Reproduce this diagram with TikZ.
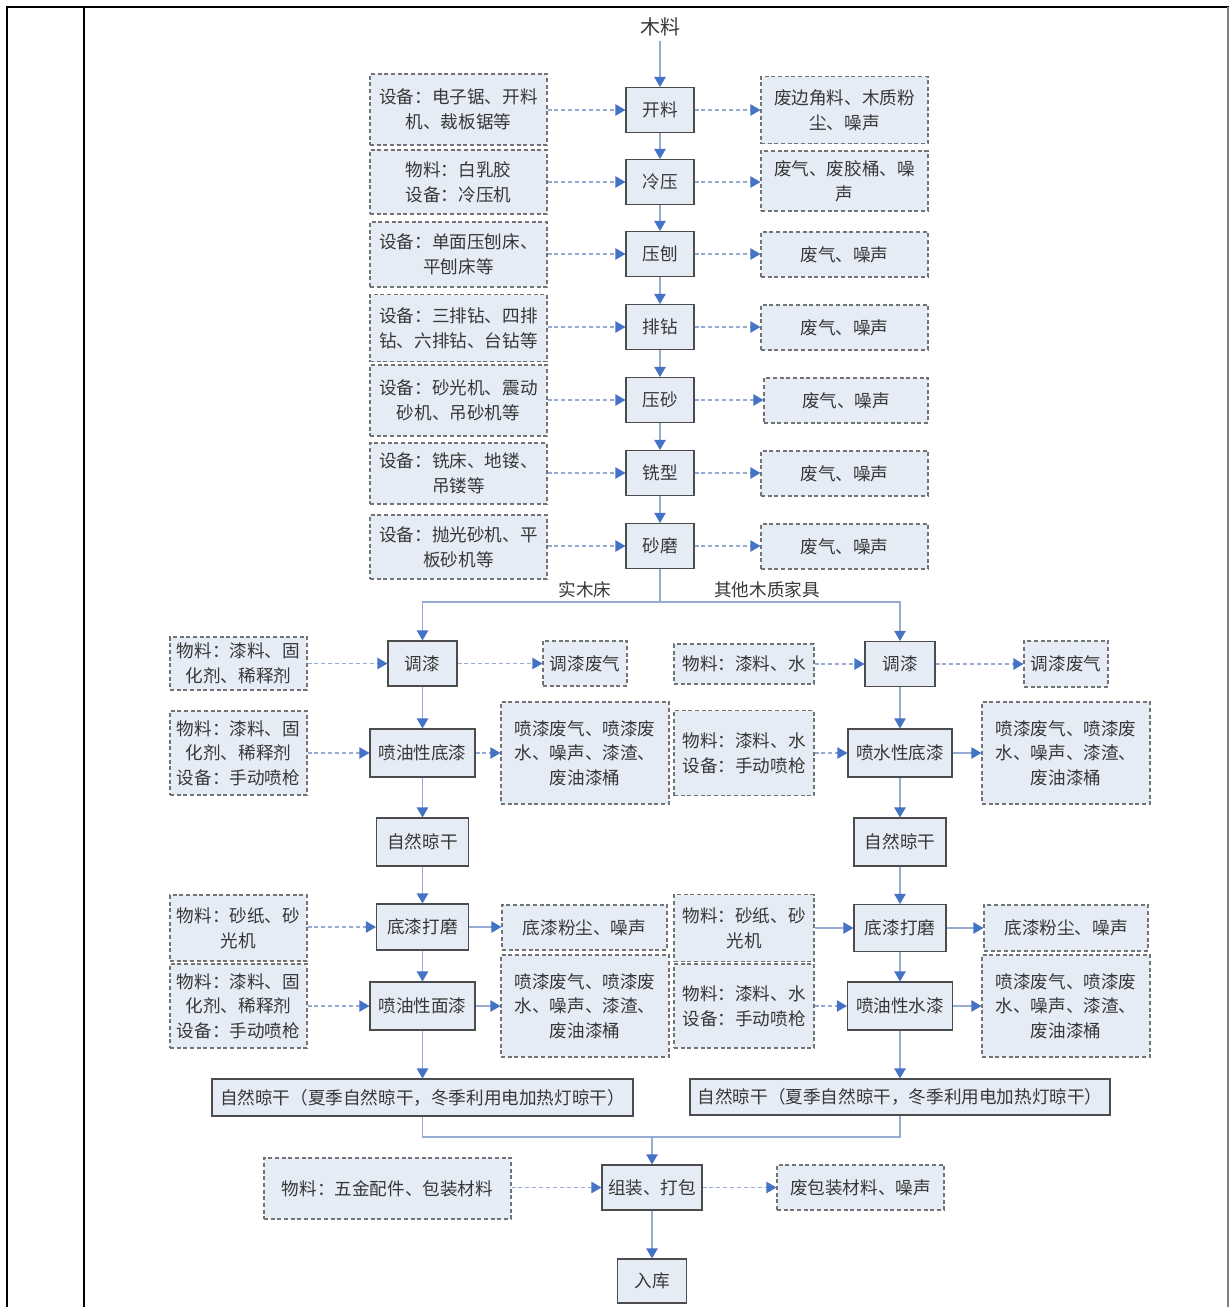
\documentclass[tikz,border=0pt]{standalone}
\usepackage{fontspec}
\setmainfont{Noto Sans CJK SC}
\usetikzlibrary{arrows.meta}
\definecolor{boxfill}{RGB}{230,236,246}
\definecolor{lncol}{RGB}{150,170,212}
\definecolor{ahcol}{RGB}{68,114,196}
\definecolor{txtcol}{RGB}{55,55,55}
\begin{document}
\begin{tikzpicture}[x=0.75pt,y=-0.75pt,
  every node/.style={font=\fontsize{13.2pt}{18.5pt}\selectfont, text=txtcol},
  proc/.style={draw=black!70, fill=boxfill, line width=0.8pt, inner sep=0pt, align=center},
  aux/.style={draw=black!55, dash pattern=on 3pt off 2pt, fill=boxfill, line width=0.8pt, inner sep=0pt, align=center},
  sz/.style 2 args={minimum width=#1*0.75pt, minimum height=#2*0.75pt},
  plain/.style={draw=lncol, line width=0.8pt},
  flow/.style={draw=lncol, line width=0.8pt, -{Triangle[length=7.5pt,width=8.5pt,color=ahcol]}},
  dflow/.style={flow, dash pattern=on 3pt off 2.2pt}
]
\useasboundingbox (0,0) rectangle (1231,1307);
% frame
\draw[line width=1.6pt] (7,1307) -- (7,7) -- (1229,7);
\draw[line width=1.2pt] (84,7) -- (84,1307);
\draw[black!50, line width=1.2pt] (1228,7) -- (1228,1307);

% main column
\node[font=\fontsize{15pt}{18pt}\selectfont] (src) at (660,27) {木料};
\node[proc,sz={68}{45}] (p1) at (660,110) {开料};
\node[proc,sz={68}{45}] (p2) at (660,182) {冷压};
\node[proc,sz={68}{45}] (p3) at (660,254) {压刨};
\node[proc,sz={68}{45}] (p4) at (660,327) {排钻};
\node[proc,sz={68}{45}] (p5) at (660,400) {压砂};
\node[proc,sz={68}{45}] (p6) at (660,473) {铣型};
\node[proc,sz={68}{45}] (p7) at (660,546) {砂磨};

\node[aux,sz={177}{71}] (l1) at (458.5,109.5) {设备：电子锯、开料\\机、裁板锯等};
\node[aux,sz={177}{64}] (l2) at (458.5,182) {物料：白乳胶\\设备：冷压机};
\node[aux,sz={177}{65}] (l3) at (458.5,254.5) {设备：单面压刨床、\\平刨床等};
\node[aux,sz={177}{67}] (l4) at (458.5,328) {设备：三排钻、四排\\钻、六排钻、台钻等};
\node[aux,sz={177}{71}] (l5) at (458.5,400.5) {设备：砂光机、震动\\砂机、吊砂机等};
\node[aux,sz={177}{61}] (l6) at (458.5,473.5) {设备：铣床、地镂、\\吊镂等};
\node[aux,sz={177}{64}] (l7) at (458.5,547) {设备：抛光砂机、平\\板砂机等};

\node[aux,sz={167}{67}] (r1) at (844.5,110) {废边角料、木质粉\\尘、噪声};
\node[aux,sz={167}{60}] (r2) at (844.5,181) {废气、废胶桶、噪\\声};
\node[aux,sz={167}{45}] (r3) at (844.5,254.5) {废气、噪声};
\node[aux,sz={167}{45}] (r4) at (844.5,327.5) {废气、噪声};
\node[aux,sz={164}{45}] (r5) at (846,400.5) {废气、噪声};
\node[aux,sz={167}{45}] (r6) at (844.5,473.5) {废气、噪声};
\node[aux,sz={167}{45}] (r7) at (844.5,546.5) {废气、噪声};

\draw[flow] (src) -- (p1);
\draw[flow] (p1) -- (p2);
\draw[flow] (p2) -- (p3);
\draw[flow] (p3) -- (p4);
\draw[flow] (p4) -- (p5);
\draw[flow] (p5) -- (p6);
\draw[flow] (p6) -- (p7);
\foreach \i in {1,...,7}{
  \draw[dflow] (l\i.east |- p\i) -- (p\i.west);
  \draw[dflow] (p\i.east) -- (r\i.west |- p\i);
}

% split
\coordinate (sp) at (660,602);
\coordinate (spl) at (422.5,602);
\coordinate (spr) at (900,602);
\node (lb1) at (585,590) {实木床};
\node (lb2) at (767,590) {其他木质家具};

% left branch
\node[proc,sz={69}{45}] (a1) at (422.5,663.5) {调漆};
\node[proc,sz={105}{48}] (a2) at (422.5,753) {喷油性底漆};
\node[proc,sz={92}{48}] (a3) at (422.5,842) {自然晾干};
\node[proc,sz={92}{46}] (a4) at (422.5,927) {底漆打磨};
\node[proc,sz={105}{48}] (a5) at (422.5,1006) {喷油性面漆};
\node[proc,sz={421}{37}] (a6) at (422.5,1097.5) {自然晾干（夏季自然晾干，冬季利用电加热灯晾干）};

\node[aux,sz={137}{53}] (m1) at (238.5,663.5) {物料：漆料、固\\化剂、稀释剂};
\node[aux,sz={137}{84}] (m2) at (238.5,753) {物料：漆料、固\\化剂、稀释剂\\设备：手动喷枪};
\node[aux,sz={137}{66}] (m3) at (238.5,928) {物料：砂纸、砂\\光机};
\node[aux,sz={137}{84}] (m4) at (238.5,1006) {物料：漆料、固\\化剂、稀释剂\\设备：手动喷枪};

\node[aux,sz={84}{45}] (w1) at (585,663.5) {调漆废气};
\node[aux,sz={168}{102}] (w2) at (585,753) {喷漆废气、喷漆废\\水、噪声、漆渣、\\废油漆桶};
\node[aux,sz={165}{45}] (w3) at (584.5,927.5) {底漆粉尘、噪声};
\node[aux,sz={168}{102}] (w4) at (585,1006) {喷漆废气、喷漆废\\水、噪声、漆渣、\\废油漆桶};

% right branch
\node[proc,sz={70}{45}] (b1) at (900,664) {调漆};
\node[proc,sz={104}{48}] (b2) at (900,753) {喷水性底漆};
\node[proc,sz={92}{48}] (b3) at (900,842) {自然晾干};
\node[proc,sz={92}{47}] (b4) at (900,928) {底漆打磨};
\node[proc,sz={105}{48}] (b5) at (900,1006) {喷油性水漆};
\node[proc,sz={420}{36}] (b6) at (900,1097) {自然晾干（夏季自然晾干，冬季利用电加热灯晾干）};

\node[aux,sz={140}{40}] (n1) at (744,664) {物料：漆料、水};
\node[aux,sz={140}{85}] (n2) at (744,753) {物料：漆料、水\\设备：手动喷枪};
\node[aux,sz={140}{67}] (n3) at (744,928) {物料：砂纸、砂\\光机};
\node[aux,sz={140}{84}] (n4) at (744,1006) {物料：漆料、水\\设备：手动喷枪};

\node[aux,sz={84}{46}] (v1) at (1066,664) {调漆废气};
\node[aux,sz={168}{102}] (v2) at (1066,753) {喷漆废气、喷漆废\\水、噪声、漆渣、\\废油漆桶};
\node[aux,sz={164}{46}] (v3) at (1066,928) {底漆粉尘、噪声};
\node[aux,sz={168}{102}] (v4) at (1066,1006) {喷漆废气、喷漆废\\水、噪声、漆渣、\\废油漆桶};

\draw[plain] (p7.south) -- (sp);
\draw[flow] (sp) -- (spl) -- (a1.north);
\draw[flow] (sp) -- (spr) -- (b1.north);

\draw[flow] (a1) -- (a2);
\draw[flow] (a2) -- (a3);
\draw[flow] (a3) -- (a4);
\draw[flow] (a4) -- (a5);
\draw[flow] (a5) -- (a6);
\draw[flow] (b1) -- (b2);
\draw[flow] (b2) -- (b3);
\draw[flow] (b3) -- (b4);
\draw[flow] (b4) -- (b5);
\draw[flow] (b5) -- (b6);

\draw[dflow] (m1.east |- a1) -- (a1.west);
\draw[dflow] (m2.east |- a2) -- (a2.west);
\draw[dflow] (m3.east |- a4) -- (a4.west);
\draw[dflow] (m4.east |- a5) -- (a5.west);
\draw[dflow] (a1.east) -- (w1.west |- a1);
\draw[dflow] (a2.east) -- (w2.west |- a2);
\draw[flow] (a4.east) -- (w3.west |- a4);
\draw[flow] (a5.east) -- (w4.west |- a5);

\draw[dflow] (n1.east |- b1) -- (b1.west);
\draw[dflow] (n2.east |- b2) -- (b2.west);
\draw[flow] (n3.east |- b4) -- (b4.west);
\draw[dflow] (n4.east |- b5) -- (b5.west);
\draw[dflow] (b1.east) -- (v1.west |- b1);
\draw[flow] (b2.east) -- (v2.west |- b2);
\draw[flow] (b4.east) -- (v3.west |- b4);
\draw[flow] (b5.east) -- (v4.west |- b5);

% merge and final
\node[proc,sz={100}{45}] (c1) at (652,1187.5) {组装、打包};
\node[proc,sz={69}{44}] (c2) at (652,1281) {入库};
\node[aux,sz={247}{61}] (c0) at (387.5,1188.5) {物料：五金配件、包装材料};
\node[aux,sz={167}{45}] (c3) at (860.5,1187.5) {废包装材料、噪声};

\coordinate (mg) at (652,1137);
\coordinate (mgl) at (422.5,1137);
\coordinate (mgr) at (900,1137);
\draw[plain] (a6.south) -- (mgl) -- (mgr) -- (b6.south);
\draw[flow] (mg) -- (c1.north);
\draw[flow] (c1) -- (c2);
\draw[dflow] (c0.east |- c1) -- (c1.west);
\draw[dflow] (c1.east) -- (c3.west |- c1);
\end{tikzpicture}
\end{document}
